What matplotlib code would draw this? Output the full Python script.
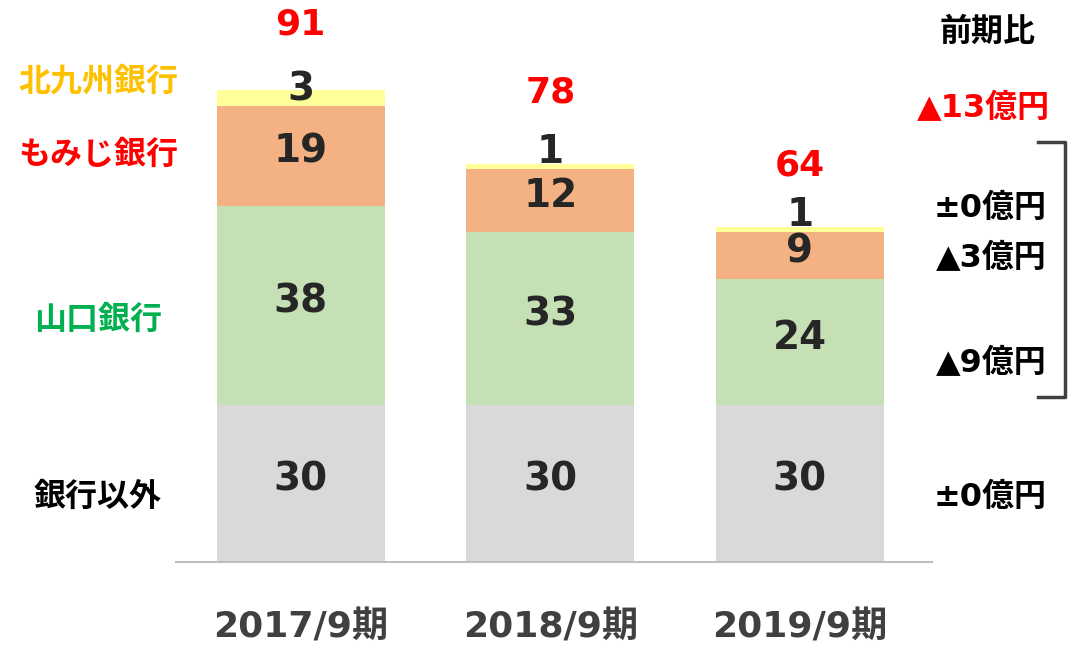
import numpy as np
import matplotlib.pyplot as plt
from matplotlib.lines import Line2D

plt.rcParams['font.family'] = ['DejaVu Sans', 'Noto Sans CJK JP']

# === Data ===
periods = ["2017/9期", "2018/9期", "2019/9期"]
other = [30, 30, 30]        # 銀行以外
yamaguchi = [38, 33, 24]    # 山口銀行
momiji = [19, 12, 9]        # もみじ銀行
kitakyushu = [3, 1, 1]      # 北九州銀行
totals = [91, 78, 64]

series_names = ["銀行以外", "山口銀行", "もみじ銀行", "北九州銀行"]
series = [other, yamaguchi, momiji, kitakyushu]
colors = ["#D9D9D9", "#C5E0B4", "#F4B183", "#FFFF99"]
name_colors = ["#000000", "#00B050", "#FF0000", "#FFC000"]

diff_labels = ["±0億円", "▲9億円", "▲3億円", "±0億円"]
total_diff = "▲13億円"

W, H = 1069, 647
fig = plt.figure(figsize=(W / 100, H / 100), dpi=100)
ax = fig.add_axes([176 / W, (H - 562) / H, 756 / W, (562 - 38) / H])

x = np.arange(len(periods))
bottom = np.zeros(len(periods))
for vals, col in zip(series, colors):
    ax.bar(x, vals, width=0.673, bottom=bottom, color=col, edgecolor='none')
    bottom += np.array(vals)

# segment labels
bottom = np.zeros(len(periods))
for i, vals in enumerate(series):
    for j, v in enumerate(vals):
        if i == len(series) - 1:
            ax.annotate(str(v), (x[j], bottom[j]), xytext=(0, 4),
                        textcoords='offset points', ha='center', va='baseline',
                        fontsize=28, fontweight='bold', color='#262626')
        else:
            ax.annotate(str(v), (x[j], bottom[j] + v / 2), xytext=(0, 3),
                        textcoords='offset points', ha='center', va='center',
                        fontsize=28, fontweight='bold', color='#262626')
    bottom += np.array(vals)

# totals in red
for j, t in enumerate(totals):
    ax.annotate(str(t), (x[j], t), xytext=(0, 44), textcoords='offset points',
                ha='center', va='center', fontsize=26, fontweight='bold',
                color='#FF0000')

ax.set_xlim(-0.5, 2.53)
ax.set_ylim(0, 100)
ax.set_xticks(x)
ax.set_xticklabels(periods, fontsize=26, fontweight='bold', color='#404040')
ax.tick_params(axis='x', length=0, pad=35)
ax.set_yticks([])
for s in ['top', 'left', 'right']:
    ax.spines[s].set_visible(False)
ax.spines['bottom'].set_color('#BFBFBF')
ax.spines['bottom'].set_linewidth(1.5)

# left-side series names
name_y = [497, 320, 155, 82]
for name, c, py in zip(series_names, name_colors, name_y):
    fig.text(98 / W, 1 - py / H, name, ha='center', va='center',
             fontsize=23, fontweight='bold', color=c)

# right-side change column
fig.text(988 / W, 1 - 32 / H, "前期比", ha='center', va='center',
         fontsize=23, fontweight='bold', color='black')
fig.text(1050 / W, 1 - 108 / H, total_diff, ha='right', va='center',
         fontsize=23, fontweight='bold', color='#FF0000')
diff_y = [497, 363, 258, 208]
for lab, py in zip(diff_labels, diff_y):
    fig.text(1047 / W, 1 - py / H, lab, ha='right', va='center',
             fontsize=23, fontweight='bold', color='black')

# bracket
bx = [1038 / W, 1065 / W, 1065 / W, 1038 / W]
by = [1 - 142 / H, 1 - 142 / H, 1 - 397 / H, 1 - 397 / H]
fig.add_artist(Line2D(bx, by, color='#404040', linewidth=2.5,
                      transform=fig.transFigure, solid_joinstyle='round'))

fig.savefig("out.png", dpi=100)
